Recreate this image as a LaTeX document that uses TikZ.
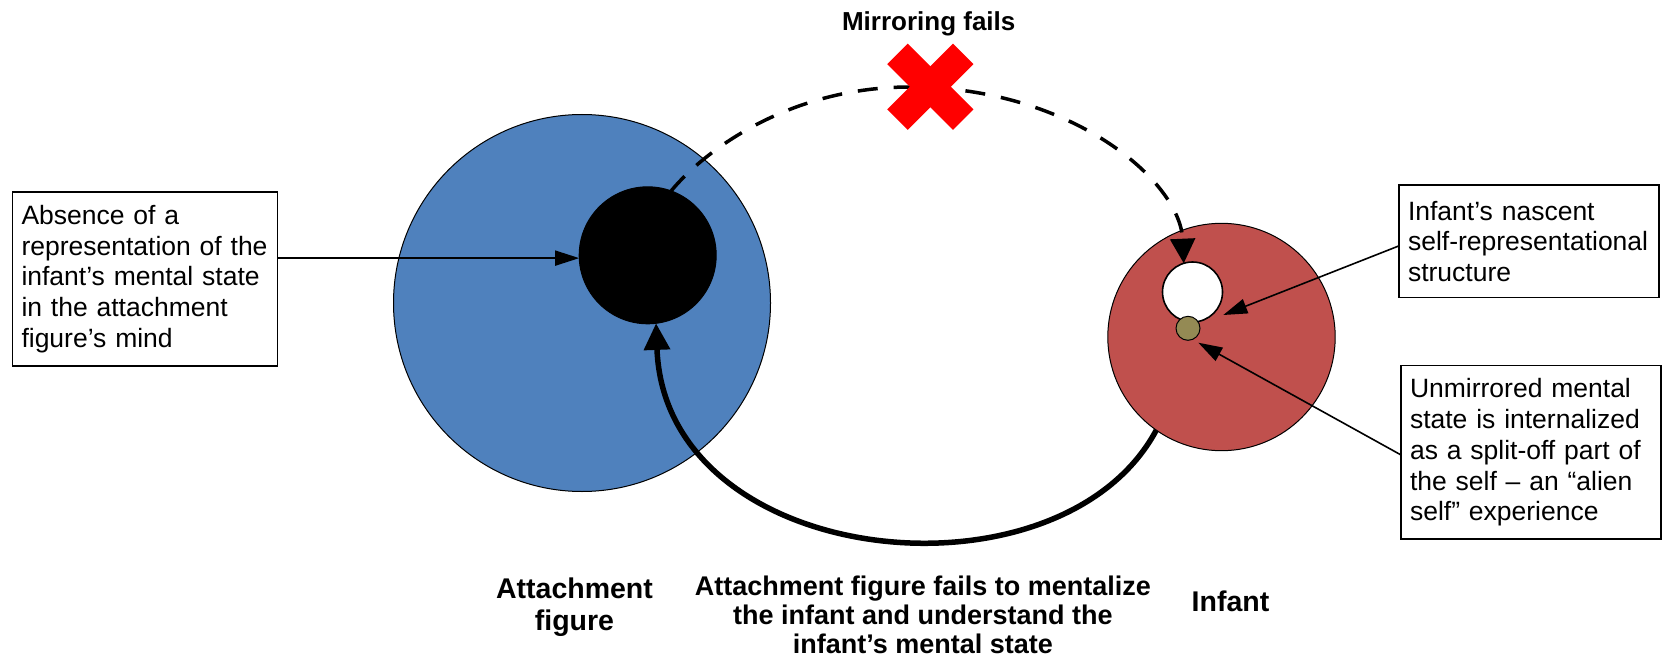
\documentclass[tikz,border=0pt]{standalone}
\usepackage{fontspec}
\setmainfont{Liberation Sans}
\usetikzlibrary{arrows.meta,calc}
\definecolor{cblue}{HTML}{4F81BD}
\definecolor{cred}{HTML}{C0504D}
\definecolor{colive}{HTML}{948A54}
\definecolor{xred}{HTML}{FF0000}
\begin{document}
\begin{tikzpicture}[x=0.5pt,y=-0.5pt,
  disc/.style={circle,inner sep=0pt,outer sep=0pt,draw=black,line width=0.5pt},
  txtbox/.style={draw=black,line width=0.6pt,rectangle,inner xsep=4.5pt,inner ysep=0pt,outer sep=0pt,align=left,font=\fontsize{13.25}{15.4}\selectfont},
  lbl/.style={align=center,inner sep=0pt},
  thinarrow/.style={draw=black,line width=0.8pt,-{Triangle[length=12pt,width=7.5pt]}},
  dasharrow/.style={draw=black,line width=1.75pt,dash pattern=on 10pt off 8pt,-{Triangle[length=12.3pt,width=12.3pt]}},
  thickarrow/.style={draw=black,line width=2.75pt,-{Triangle[length=13.3pt,width=12.7pt]}}
]
\useasboundingbox (0,0) rectangle (1664,658);

% circles
\node[disc,fill=cblue,minimum size=188.5pt] (blue) at (582,303) {};
\node[disc,fill=black,minimum size=68.5pt] (blk) at (647.7,255.3) {};
\node[disc,fill=cred,minimum size=113.7pt] (red) at (1221.5,337) {};
\node[disc,fill=white,line width=0.8pt,minimum size=30pt] (wht) at (1192.5,292) {};
\node[disc,fill=colive,minimum size=12pt] (olv) at (1188,328.3) {};

% bottom arc
\draw[thickarrow] (red.235) .. controls (1060,610) and (665,570) .. (blk.277);

% dashed mirroring arc
\coordinate (apex) at (910,87);
\draw[dasharrow] (blk.70) .. controls (705,150) and (790,87) .. (apex)
   .. controls (1070,87) and (1180,180) .. (wht.107);

% red cross
\coordinate (xc) at (930.3,86.7);
\fill[xred,shift={(xc)}] (-43.13,-22.63) -- (-22.63,-43.13) -- (43.13,22.63) -- (22.63,43.13) -- cycle;
\fill[xred,shift={(xc)}] (-43.13,22.63) -- (-22.63,43.13) -- (43.13,-22.63) -- (22.63,-43.13) -- cycle;

% text boxes
\node[txtbox,text width=123.5pt,minimum height=87pt] (absbox) at (145,279)
  {Absence of a\\representation of the\\infant’s mental state\\in the attachment\\figure’s mind};
\node[txtbox,text width=121pt,minimum height=56.35pt] (nasbox) at (1529,241.35)
  {Infant’s nascent\\\mbox{self-representational}\\structure};
\node[txtbox,text width=121pt,minimum height=86.65pt] (unmbox) at (1531,452.35)
  {Unmirrored mental\\state is internalized\\as a \mbox{split-off} part of\\the self – an “alien\\self” experience};

% box arrows
\coordinate (a1) at ($(absbox.north east)!0.38!(absbox.south east)$);
\draw[thinarrow] (a1) -- (a1 -| blk.west);
\coordinate (b1) at ($(nasbox.north west)!0.54!(nasbox.south west)$);
\draw[thinarrow] (b1) -- ($(wht.center)+(30.8,23)$);
\coordinate (c1) at ($(unmbox.north west)!0.515!(unmbox.south west)$);
\draw[thinarrow] (c1) -- ($(olv.center)+(10.3,14.4)$);

% labels (anchor base = baseline of last line)
\node[lbl,anchor=base,font=\bfseries\fontsize{13}{15}\selectfont] (mirr) at (928.7,30.7) {Mirroring fails};
\node[lbl,anchor=base,font=\bfseries\fontsize{14.25}{16.2}\selectfont] (attl) at (574.5,630.7) {Attachment\\figure};
\node[lbl,anchor=base,font=\bfseries\fontsize{13.5}{14.5}\selectfont] (midl) at (922.9,653) {Attachment figure fails to mentalize\\the infant and understand the\\infant’s mental state};
\node[lbl,anchor=base,font=\bfseries\fontsize{14.25}{16.2}\selectfont] (infl) at (1230.5,611.7) {Infant};
\end{tikzpicture}
\end{document}
